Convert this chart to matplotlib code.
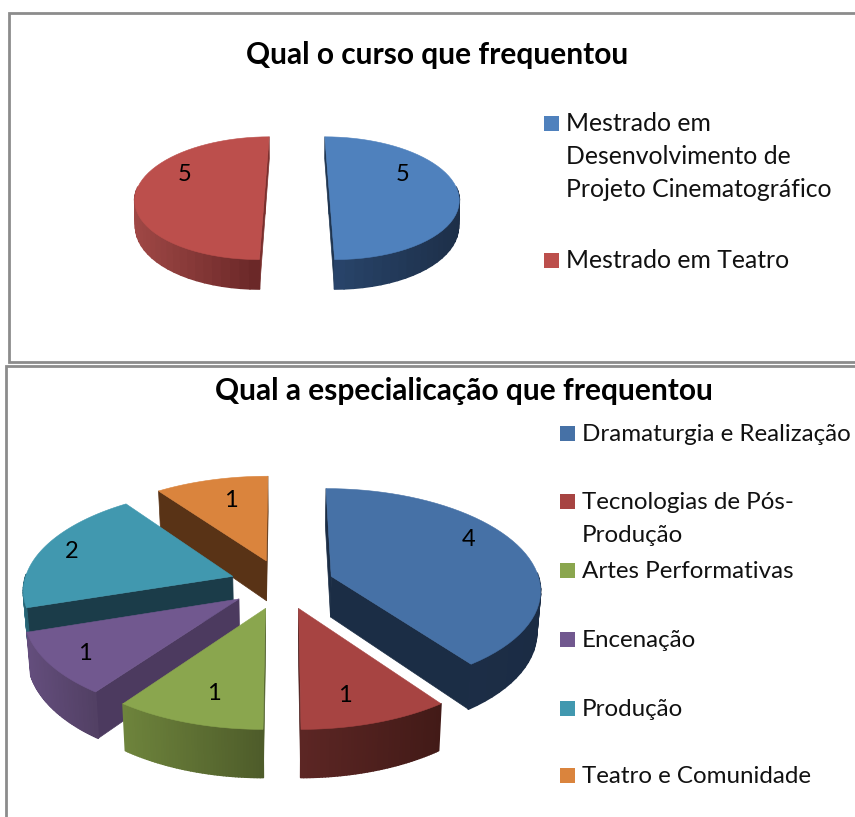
import numpy as np
import matplotlib
matplotlib.use('Agg')
import matplotlib.pyplot as plt

plt.rcParams['font.family'] = ['Lato', 'DejaVu Sans']

# dados
curso_titulo = 'Qual o curso que frequentou'
curso_nomes = ['Mestrado em\nDesenvolvimento de\nProjeto Cinematográfico', 'Mestrado em Teatro']
curso_valores = [5, 5]

espec_titulo = 'Qual a especialicação que frequentou'
espec_nomes = ['Dramaturgia e Realização', 'Tecnologias de Pós-\nProdução', 'Artes Performativas',
               'Encenação', 'Produção', 'Teatro e Comunidade']
espec_valores = [4, 1, 1, 1, 2, 1]

# cores: topo, parede radial, lateral esquerda, lateral direita
curso_cores = [('#4F81BD', '#1F3550', '#28446A', '#1D2F48'),
               ('#BC4F4C', '#7A2F2D', '#A04846', '#692727')]
espec_cores = [('#4671A6', '#1B2D45', '#1C2D46', '#1B2C44'),
               ('#A74442', '#4A1C1A', '#5C2624', '#421A17'),
               ('#8AA64E', '#4F5F2B', '#6E843C', '#4E5C2A'),
               ('#71588F', '#4C3A5F', '#644E7D', '#524064'),
               ('#4198AF', '#1B3C49', '#2F7386', '#265E6E'),
               ('#DA843D', '#593316', '#96552A', '#7A4520')]


def hex_rgb(c):
    return np.array(matplotlib.colors.to_rgb(c))


def pizza(ax, valores, cores, cx, cy, fx, gy, k, altura, afila, expl):
    total = sum(valores)
    angs = 90 - np.cumsum([0] + list(valores)) / total * 360

    def proj(X, Y, z):
        s = 1 / (1 + k * Y)
        return cx + fx * X * s * (1 - afila * z), cy - gy * Y * s + altura * s * z

    fatias = []
    for i in range(len(valores)):
        meio = np.radians((angs[i] + angs[i + 1]) / 2)
        fatias.append((np.sin(meio), i, expl * np.cos(meio), expl * np.sin(meio)))
    fatias.sort(reverse=True)

    for _, i, ox, oy in fatias:
        topo, parede, esq, dir_ = cores[i]
        t = np.radians(np.linspace(angs[i], angs[i + 1], 50))
        X = ox + np.cos(t)
        Y = oy + np.sin(t)

        # faces em volta, de tras para a frente; as que ficam de costas nao entram
        faces = []
        for a_g, sinal, c, d in [(angs[i], 1, X[0], Y[0]), (angs[i + 1], -1, X[-1], Y[-1])]:
            n = np.radians(a_g + sinal * 90)
            if -ox * np.cos(n) + (-1 / k - oy) * np.sin(n) > 0:
                faces.append(((oy + d) / 2 + 0.02, ox, oy, c, d, parede, 0.5))
        frente = np.sin(t) < 0
        xs_frente = proj(X[frente], Y[frente], 0)[0] if frente.any() else proj(X, Y, 0)[0]
        x0, x1 = xs_frente.min(), xs_frente.max()
        for j in range(len(t) - 1):
            if np.sin((t[j] + t[j + 1]) / 2) > 0.03:
                continue
            xm = proj((X[j] + X[j + 1]) / 2, (Y[j] + Y[j + 1]) / 2, 0)[0]
            f = np.clip((xm - x0) / max(x1 - x0, 1), 0, 1)
            cor = hex_rgb(esq) * (1 - f) + hex_rgb(dir_) * f
            faces.append(((Y[j] + Y[j + 1]) / 2, X[j], Y[j], X[j + 1], Y[j + 1], cor, 1.2))
        faces.sort(key=lambda q: -q[0])
        for _, a, b, c, d, cor, lw in faces:
            xa, ya = proj(np.array([a, c, c, a]), np.array([b, d, d, b]), np.array([0, 0, 1, 1]))
            ax.fill(xa, ya, color=cor, lw=lw, zorder=2, joinstyle='round')

        xt, yt = proj(np.r_[ox, X], np.r_[oy, Y], 0)
        ax.fill(xt, yt, color=topo, lw=0.4, zorder=2)


fig = plt.figure(figsize=(8.55, 8.17), dpi=100)
ax = fig.add_axes([0, 0, 1, 1])
ax.set_xlim(0, 855)
ax.set_ylim(817, 0)
ax.axis('off')

# molduras
borda = '#8C8C8C'
ax.plot([855, 9, 9, 855], [13, 13, 362, 362], color=borda, lw=2, solid_joinstyle='miter')
ax.plot([855, 6, 6], [366, 366, 817], color=borda, lw=2, solid_joinstyle='miter')

pizza(ax, curso_valores, curso_cores, 297, 189, 128, 60, 0.15, 25, 0.005, 0.25)
pizza(ax, espec_valores, espec_cores, 282, 584, 209, 100, 0.12, 41, 0.015, 0.25)

# titulos
ax.text(437.5, 64, curso_titulo, ha='center', va='baseline', fontsize=21.5, fontweight='bold', color='black')
ax.text(463.5, 400, espec_titulo, ha='center', va='baseline', fontsize=21.5, fontweight='bold', color='black')

# rotulos de valor
curso_pos = [(403, 174), (185, 174)]
espec_pos = [(469, 539), (345, 695), (214, 694), (85, 654), (72, 551), (231, 500)]
for v, p in zip(curso_valores, curso_pos):
    ax.text(p[0], p[1], str(v), ha='center', va='center', fontsize=17, color='black')
for v, p in zip(espec_valores, espec_pos):
    ax.text(p[0], p[1], str(v), ha='center', va='center', fontsize=17, color='black')


def legenda(nomes, cores, x_q, x_t, lado, linhas_y, tam):
    for nome, cor, y in zip(nomes, cores, linhas_y):
        ax.fill([x_q, x_q + lado, x_q + lado, x_q], [y - lado, y - lado, y, y], color=cor[0], lw=0)
        for n, parte in enumerate(nome.split('\n')):
            ax.text(x_t, y + n * 33, parte, ha='left', va='baseline', fontsize=tam, color='#111111')


legenda(curso_nomes, curso_cores, 544, 566, 15, [131, 268], 17.8)
legenda(espec_nomes, espec_cores, 560, 582, 15, [441, 509, 578, 647, 716, 783], 17.4)

fig.savefig('out.png', dpi=100)
